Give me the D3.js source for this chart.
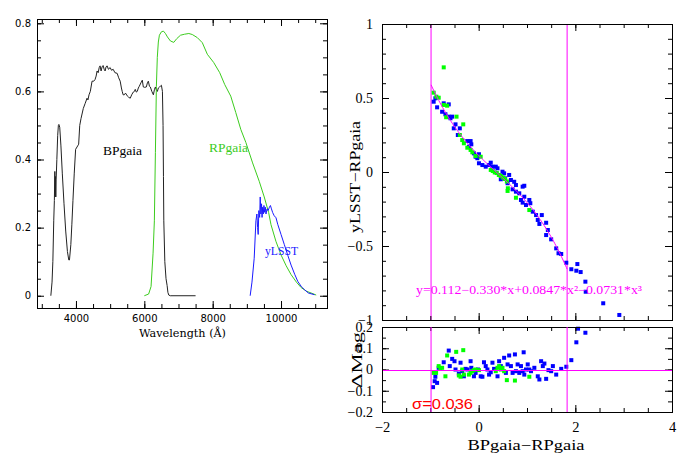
<!DOCTYPE html>
<html><head><meta charset="utf-8">
<script src="https://cdn.jsdelivr.net/npm/d3@7"></script>
<style>body{margin:0;background:#fff}svg{display:block}</style>
</head><body>
<svg id="c" width="690" height="458"></svg>
<script>
// ---------- Filter transmission curves ----------
const bpWave = [3265,3300,3324,3350,3368,3382,3392,3400,3410,3420,3441,3465,3485,3500,3525,3560,3600,3650,3700,3750,3790,3810,3850,3880,3912,3950,3990,4050,4079,4110,4147,4215,4270,4324,4350,4382,4420,4471,4520,4559,4590,4618,4650,4680,4706,4735,4765,4794,4825,4853,4880,4912,4950,5000,5040,5088,5140,5206,5250,5294,5330,5353,5380,5412,5450,5500,5540,5588,5630,5676,5710,5735,5765,5794,5825,5853,5900,5941,5971,6010,6059,6090,6118,6150,6176,6220,6265,6295,6324,6350,6382,6410,6441,6470,6500,6530,6548,6560,6570,6600,6635,6667,6690,6715,6760,7500];
const bpTrans = [0,0.04,0.10,0.22,0.28,0.365,0.29,0.35,0.29,0.34,0.40,0.47,0.50,0.503,0.495,0.44,0.36,0.27,0.19,0.13,0.105,0.105,0.15,0.21,0.28,0.36,0.43,0.44,0.445,0.50,0.52,0.55,0.565,0.58,0.575,0.59,0.60,0.63,0.63,0.635,0.645,0.66,0.655,0.67,0.675,0.66,0.672,0.676,0.665,0.66,0.672,0.675,0.665,0.67,0.662,0.665,0.655,0.653,0.64,0.63,0.61,0.60,0.59,0.59,0.595,0.587,0.583,0.58,0.59,0.598,0.60,0.606,0.598,0.60,0.61,0.615,0.625,0.633,0.613,0.612,0.613,0.625,0.63,0.615,0.613,0.60,0.59,0.605,0.613,0.605,0.60,0.61,0.613,0.615,0.618,0.60,0.50,0.35,0.22,0.10,0.05,0.03,0.01,0.002,0,0];

const rpWave = [6000,6126,6197,6256,6294,6324,6353,6380,6410,6441,6500,6559,6618,6676,6765,6862,6950,7059,7180,7303,7403,7550,7697,7844,8029,8206,8353,8529,8676,8824,8971,9168,9362,9509,9638,9706,9850,10000,10150,10294,10450,10588,10750,10882,11029];
const rpTrans = [0,0.005,0.027,0.125,0.22,0.42,0.615,0.70,0.745,0.765,0.775,0.777,0.77,0.76,0.748,0.744,0.755,0.765,0.768,0.77,0.767,0.758,0.743,0.709,0.685,0.655,0.62,0.586,0.538,0.488,0.45,0.39,0.336,0.29,0.244,0.209,0.16,0.12,0.088,0.062,0.04,0.024,0.013,0.008,0.002];

const yWave = [9097,9150,9215,9265,9294,9315,9332,9350,9375,9391,9410,9430,9445,9462,9480,9500,9520,9540,9560,9590,9620,9660,9690,9720,9756,9800,9853,9903,10000,10097,10200,10294,10400,10491,10600,10685,10800,10979];
const yTrans = [0,0.04,0.11,0.22,0.24,0.20,0.18,0.25,0.23,0.29,0.24,0.27,0.23,0.26,0.24,0.265,0.245,0.26,0.24,0.255,0.25,0.26,0.265,0.255,0.244,0.235,0.229,0.21,0.18,0.15,0.118,0.09,0.063,0.042,0.026,0.018,0.008,0.003];

// ---------- Colour-colour relation (top right) ----------
const blueX = [-0.931,-0.896,-0.860,-0.723,-0.619,-0.756,-0.688,-0.619,-0.548,-0.583,-0.479,-0.515,-0.390,-0.431,-0.235,-0.167,-0.152,-0.202,-0.098,0.006,-0.027,-0.063,0.077,0.146,0.250,0.285,0.354,0.527,0.631,0.458,0.667,0.735,0.598,0.771,0.944,0.702,0.771,0.840,0.944,0.875,0.910,1.048,1.069,0.979,1.119,1.188,1.306,1.223,1.256,1.396,1.431,1.396,1.500,1.604,1.652,1.708,1.813,1.917,2.042,2.021,2.110,2.208,2.215,2.577,2.910,0.006,0.215,0.389,0.493,0.548,0.910];
const blueY = [0.475,0.498,0.437,0.464,0.457,0.407,0.390,0.374,0.374,0.363,0.322,0.295,0.295,0.250,0.209,0.209,0.187,0.171,0.126,0.120,0.093,0.103,0.047,0.036,0.063,0.036,0.036,-0.009,-0.020,-0.049,-0.054,-0.066,-0.076,-0.088,-0.093,-0.117,-0.133,-0.144,-0.167,-0.189,-0.207,-0.189,-0.211,-0.223,-0.268,-0.291,-0.291,-0.324,-0.351,-0.343,-0.392,-0.426,-0.455,-0.516,-0.549,-0.554,-0.613,-0.657,-0.622,-0.667,-0.676,-0.741,-0.809,-0.887,-0.966,0.059,0.047,0.025,0.002,-0.043,-0.099];
const greenX = [-0.723,-0.931,-0.875,-0.827,-0.723,-0.652,-0.458,-0.673,-0.319,-0.390,-0.340,-0.306,-0.235,-0.167,-0.131,-0.063,0.042,0.250,0.292,0.333,0.375,0.417,0.458,0.500,0.542,0.583,0.604,0.598,0.771,1.048];
const greenY = [0.707,0.536,0.509,0.502,0.453,0.448,0.374,0.370,0.322,0.250,0.216,0.194,0.164,0.149,0.133,0.108,0.103,0.014,0.007,-0.003,-0.007,-0.020,-0.027,-0.037,-0.047,-0.064,-0.110,-0.128,-0.174,-0.257];

// ---------- Residuals (bottom right) ----------
const resBlueX = [-0.944,-0.910,-0.860,-0.896,-0.827,-0.723,-0.619,-0.598,-0.548,-0.500,-0.479,-0.375,-0.410,-0.340,-0.306,-0.271,-0.235,-0.167,-0.152,-0.098,-0.063,-0.015,0.042,0.077,0.110,0.146,0.181,0.215,0.250,0.285,0.319,0.390,0.423,0.458,0.527,0.563,0.631,0.598,0.667,0.702,0.750,0.771,0.806,0.840,0.875,0.931,0.910,0.944,0.979,1.015,1.048,1.083,1.152,1.223,1.256,1.292,1.327,1.360,1.396,1.444,1.500,1.535,1.604,1.708,1.813,1.917,2.021,2.056,2.208];
const resBlueY = [-0.083,-0.055,-0.063,-0.034,0.008,0.034,0.089,0.016,0.050,0.039,0.000,0.032,-0.019,-0.008,-0.032,0.003,0.000,0.039,0.008,-0.032,-0.016,0.000,-0.032,-0.034,0.034,0.016,0.000,-0.024,-0.013,0.032,0.003,-0.032,0.039,0.016,0.055,-0.016,0.066,0.024,0.016,-0.016,0.071,-0.008,0.024,-0.016,0.016,0.081,-0.008,-0.024,0.000,0.024,0.000,-0.008,0.008,-0.032,-0.047,0.039,0.016,0.028,-0.044,-0.003,-0.008,0.016,-0.024,0.003,0.013,0.044,0.128,0.192,0.173];
const resGreenX = [-0.931,-0.881,-0.827,-0.792,-0.756,-0.688,-0.652,-0.465,-0.319,-0.410,-0.375,-0.306,-0.167,-0.131,-0.098,-0.063,0.006,-0.340,-0.202,0.354,0.390,0.423,0.458,0.493,0.527,0.583,0.750,1.048];
const resGreenY = [-0.016,-0.016,0.016,0.003,0.008,-0.032,0.066,0.083,0.091,-0.028,-0.034,-0.024,-0.016,-0.008,-0.003,0.000,-0.003,0.000,-0.024,-0.008,0.008,0.016,0.000,0.008,-0.008,-0.050,-0.052,-0.034];

// ---------- Fit ----------
const fitCoef = [0.112, -0.330, 0.0847, -0.0731];
const fitRange = [-0.985, 1.83];
const cutLines = [-0.985, 1.83];
const fitText = "y=0.112\u22120.330*x+0.0847*x\u00b2\u22120.0731*x\u00b3";
const sigmaText = "\u03c3=0.036";

// ---------- Ticks ----------
const lxMajor = [4000,6000,8000,10000];
const lxMinor = d3.range(3000, 11001, 500);
const lyMajor = [0,0.2,0.4,0.6,0.8];
const lyMinor = d3.range(0, 0.801, 0.05);
const rxMajor = [-2,0,2,4];
const rxMinor = d3.range(-2, 4.01, 0.5);
const tyMajor = [-1,-0.5,0,0.5,1];
const tyMinor = d3.range(-1, 1.001, 0.1);
const byMajor = [-0.2,-0.1,0,0.1,0.2];
const byMinor = d3.range(-0.2, 0.201, 0.05);

const MAG = "#ff00ff";
const svg = d3.select("#c");
const minus = s => String(s).replace("-", "\u2212");

function frame(g, x, y, xMaj, xMin, yMaj, yMin) {
  const [x0, x1] = x.range();
  const [y0, y1] = y.range();
  const add = (axis, tr, vals, len) => {
    const a = g.append("g").attr("transform", tr)
      .call(axis.tickValues(vals).tickSize(-len).tickFormat(""));
    a.select(".domain").remove();
    a.selectAll("line").attr("stroke", "#000");
  };
  [[xMaj, 7], [xMin, 4]].forEach(([v, l]) => {
    add(d3.axisBottom(x), `translate(0,${y0})`, v, l);
    add(d3.axisTop(x), `translate(0,${y1})`, v, l);
  });
  [[yMaj, 7], [yMin, 4]].forEach(([v, l]) => {
    add(d3.axisLeft(y), `translate(${x0},0)`, v, l);
    add(d3.axisRight(y), `translate(${x1},0)`, v, l);
  });
  g.append("rect").attr("x", x0 + 0.5).attr("y", y1 + 0.5)
    .attr("width", x1 - x0).attr("height", y0 - y1)
    .attr("fill", "none").attr("stroke", "#000");
}
function labels(g, axis, tr, vals, fmt, pad, family, size) {
  const a = g.append("g").attr("transform", tr)
    .call(axis.tickValues(vals).tickSize(0).tickPadding(pad).tickFormat(fmt));
  a.select(".domain").remove();
  a.selectAll("text").attr("font-family", family).attr("font-size", size).attr("fill", "#000");
}
function text(g, s, x, y, opt) {
  const t = g.append("text").attr("x", x).attr("y", y).text(s)
    .attr("font-family", opt.family || "Liberation Serif")
    .attr("font-size", opt.size || 13)
    .attr("fill", opt.fill || "#000")
    .attr("text-anchor", opt.anchor || "start");
  if (opt.len) t.attr("textLength", opt.len).attr("lengthAdjust", "spacingAndGlyphs");
  if (opt.rot) t.attr("transform", `rotate(-90,${x},${y})`);
  return t;
}

// ================= LEFT PANEL =================
const xL = d3.scaleLinear().domain([2860, 11345]).range([37, 327]);
const yL = d3.scaleLinear().domain([-0.036, 0.8126]).range([308, 19]);
const gL = svg.append("g");
const lineL = d3.line().x(d => xL(d[0])).y(d => yL(d[1]));
gL.append("path").datum(d3.zip(bpWave, bpTrans)).attr("d", lineL)
  .attr("fill", "none").attr("stroke", "#222").attr("stroke-width", 1);
gL.append("path").datum(d3.zip(rpWave, rpTrans)).attr("d", lineL)
  .attr("fill", "none").attr("stroke", "#3ccc1e").attr("stroke-width", 1);
gL.append("path").datum(d3.zip(yWave, yTrans)).attr("d", lineL)
  .attr("fill", "none").attr("stroke", "#1a1aff").attr("stroke-width", 1);
frame(gL, xL, yL, lxMajor, lxMinor, lyMajor, lyMinor);
labels(gL, d3.axisBottom(xL), `translate(0,308)`, lxMajor, d3.format("d"), 7, "DejaVu Sans", 10);
labels(gL, d3.axisLeft(yL), `translate(37,0)`, lyMajor, d => d === 0 ? "0" : d3.format(".1f")(d), 6, "DejaVu Sans", 10);
text(gL, "Wavelength (\u00c5)", 182.5, 337, {family: "DejaVu Serif", size: 11, anchor: "middle", len: 87});
text(gL, "BPgaia", 103, 155, {size: 12.5, len: 39});
text(gL, "RPgaia", 209, 152, {size: 12.5, len: 39, fill: "#3ccc1e"});
text(gL, "yLSST", 265, 255, {size: 12.5, len: 33, fill: "#1a1aff"});

// ================= RIGHT PANELS =================
const xR = d3.scaleLinear().domain([-2, 4]).range([382, 672]);
const yT = d3.scaleLinear().domain([-1, 1]).range([320, 24]);
const yB = d3.scaleLinear().domain([-0.2, 0.2]).range([412, 327]);
const gR = svg.append("g");
const poly = x => fitCoef.reduce((s, c, i) => s + c * Math.pow(x, i), 0);
const sq = 4;

// top panel
cutLines.forEach(c => gR.append("line").attr("x1", xR(c)).attr("x2", xR(c))
  .attr("y1", yT.range()[1]).attr("y2", yT.range()[0]).style("stroke", MAG).style("stroke-width", 1));
gR.append("g").selectAll("rect").data(d3.zip(blueX, blueY)).join("rect")
  .attr("x", d => xR(d[0]) - sq / 2).attr("y", d => yT(d[1]) - sq / 2)
  .attr("width", sq).attr("height", sq).attr("fill", "#0000ff");
gR.append("g").selectAll("rect").data(d3.zip(greenX, greenY)).join("rect")
  .attr("x", d => xR(d[0]) - sq / 2).attr("y", d => yT(d[1]) - sq / 2)
  .attr("width", sq).attr("height", sq).attr("fill", "#00ff00");
const fitXs = d3.range(fitRange[0], fitRange[1], 0.02).concat([fitRange[1]]);
gR.append("path").datum(fitXs).attr("d", d3.line().x(d => xR(d)).y(d => yT(poly(d))))
  .attr("fill", "none").style("stroke", MAG).style("stroke-width", 1);
frame(gR, xR, yT, rxMajor, rxMinor, tyMajor, tyMinor);
labels(gR, d3.axisLeft(yT), `translate(382,0)`, tyMajor, minus, 9, "Liberation Serif", 14);
text(gR, fitText, 416, 294, {size: 12, len: 226, fill: MAG});
text(gR, "yLSST\u2212RPgaia", 360, 177, {size: 14.5, len: 112, anchor: "middle", rot: true});

// bottom panel
const gB = svg.append("g");
gB.append("rect").attr("x", 382).attr("y", 327).attr("width", 290).attr("height", 85).attr("fill", "#fff");
gB.append("g").selectAll("rect").data(d3.zip(resBlueX, resBlueY)).join("rect")
  .attr("x", d => xR(d[0]) - sq / 2).attr("y", d => yB(d[1]) - sq / 2)
  .attr("width", sq).attr("height", sq).attr("fill", "#0000ff");
gB.append("g").selectAll("rect").data(d3.zip(resGreenX, resGreenY)).join("rect")
  .attr("x", d => xR(d[0]) - sq / 2).attr("y", d => yB(d[1]) - sq / 2)
  .attr("width", sq).attr("height", sq).attr("fill", "#00ff00");
frame(gB, xR, yB, rxMajor, rxMinor, byMajor, byMinor);
const y0px = Math.round(yB(0)) + 0.5;
gB.append("path").attr("d", `M${xR.range()[0] + 1},${y0px}H${xR.range()[1]}`)
  .style("stroke", MAG).style("stroke-width", 1).style("fill", "none");
cutLines.forEach(c => gB.append("line").attr("x1", xR(c)).attr("x2", xR(c))
  .attr("y1", yB.range()[1]).attr("y2", yB.range()[0]).style("stroke", MAG).style("stroke-width", 1));
labels(gB, d3.axisLeft(yB), `translate(382,0)`, byMajor, d => minus(d3.format(".1f")(d).replace("0.0", "0")), 9, "Liberation Serif", 14);
labels(gB, d3.axisBottom(xR), `translate(0,412)`, rxMajor, minus, 10, "Liberation Serif", 14.5);
text(gB, sigmaText, 412, 409, {family: "Liberation Sans", size: 15, len: 61, fill: "#ff0000"});
text(gB, "\u0394Mag", 362, 360, {size: 14.5, len: 56, anchor: "middle", rot: true});
text(gB, "BPgaia\u2212RPgaia", 526, 450, {size: 14.5, len: 117, anchor: "middle"});
</script>
</body></html>
